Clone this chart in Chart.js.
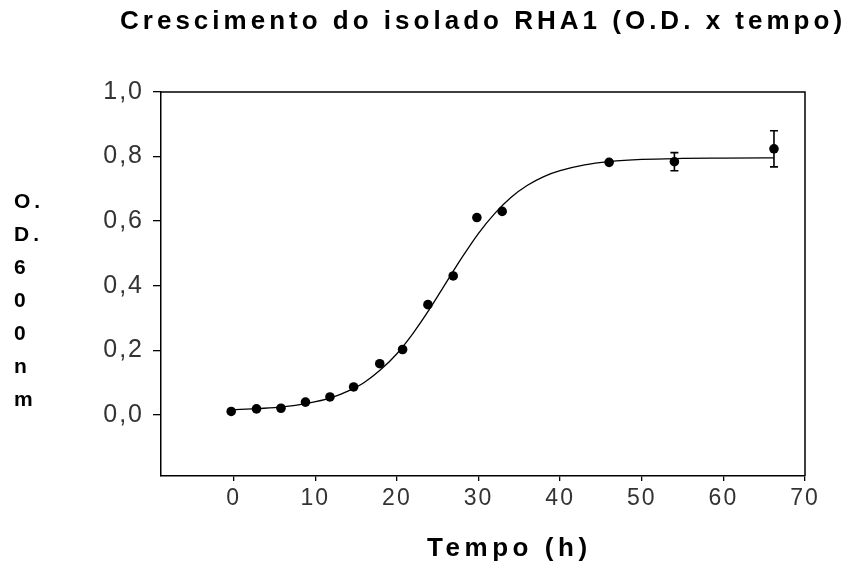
<!DOCTYPE html>
<html>
<head>
<meta charset="utf-8">
<script src="https://cdn.jsdelivr.net/npm/chart.js@4/dist/chart.umd.min.js"></script>
<style>
  html, body { margin: 0; padding: 0; background: #ffffff; }
  #wrap { width: 848px; height: 566px; }
</style>
</head>
<body>
<div id="wrap"><canvas id="c" width="848" height="566"></canvas></div>
<script>
// ---- data ----
const chartTitle = 'Crescimento do isolado RHA1 (O.D. x tempo)';
const xTitle = 'Tempo (h)';
const yTitleLines = ['O.', 'D.', '6', '0', '0', 'n', 'm'];

const timeH    = [-0.3, 2.8, 5.8, 8.8, 11.8, 14.7, 17.9, 20.7, 23.8, 26.9, 29.8, 32.9, 46.0, 54.0, 66.2];
const odValues = [0.010, 0.018, 0.020, 0.039, 0.055, 0.086, 0.158, 0.202, 0.341, 0.430, 0.611, 0.630, 0.782, 0.784, 0.824];
const odErrors = [0, 0, 0, 0, 0, 0, 0, 0, 0, 0, 0, 0, 0, 0.028, 0.056];

const fitTime = [-0.3, 3, 6, 9, 12, 14, 16, 18, 20, 22, 24, 26, 28, 30, 32, 34, 36, 38, 40, 43, 46, 50, 55, 60, 66.2];
const fitOD   = [0.015, 0.019, 0.024, 0.035, 0.053, 0.073, 0.100, 0.139, 0.189, 0.253, 0.327, 0.408, 0.488, 0.562, 0.624, 0.674, 0.711, 0.738, 0.756, 0.774, 0.784, 0.791, 0.794, 0.795, 0.796];

const xTicks = [0, 10, 20, 30, 40, 50, 60, 70];
const xTickLabels = ['0', '10', '20', '30', '40', '50', '60', '70'];
const yTicks = [0, 0.2, 0.4, 0.6, 0.8, 1.0];
const yTickLabels = ['0,0', '0,2', '0,4', '0,6', '0,8', '1,0'];

// ---- helpers ----
function drawSpaced(ctx, text, left, baseline, targetWidth) {
  ctx.letterSpacing = '0px';
  const w0 = ctx.measureText(text).width;
  const n = Array.from(text).length;
  const sp = Math.max(0, (targetWidth - w0) / (n - 1));
  ctx.letterSpacing = sp.toFixed(2) + 'px';
  ctx.textAlign = 'left';
  ctx.textBaseline = 'alphabetic';
  ctx.fillText(text, left, baseline);
  ctx.letterSpacing = '0px';
}

const decorPlugin = {
  id: 'decor',
  beforeDraw(chart) {
    const ctx = chart.ctx;
    ctx.save();
    ctx.fillStyle = '#ffffff';
    ctx.fillRect(0, 0, chart.width, chart.height);
    ctx.restore();
    ctx.letterSpacing = '2px';
  },
  beforeDatasetsDraw(chart) {
    chart.ctx.letterSpacing = '0px';
  },
  afterDatasetsDraw(chart) {
    const ctx = chart.ctx;
    const xs = chart.scales.x, ys = chart.scales.y;
    // error bars
    ctx.save();
    ctx.strokeStyle = '#000';
    ctx.lineWidth = 1.6;
    for (let i = 0; i < timeH.length; i++) {
      if (!odErrors[i]) continue;
      const px = xs.getPixelForValue(timeH[i]);
      const top = ys.getPixelForValue(odValues[i] + odErrors[i]);
      const bot = ys.getPixelForValue(odValues[i] - odErrors[i]);
      ctx.beginPath();
      ctx.moveTo(px, top); ctx.lineTo(px, bot);
      ctx.moveTo(px - 4, top); ctx.lineTo(px + 4, top);
      ctx.moveTo(px - 4, bot); ctx.lineTo(px + 4, bot);
      ctx.stroke();
    }
    ctx.restore();
  },
  afterDraw(chart) {
    const ctx = chart.ctx;
    const a = chart.chartArea;
    ctx.save();
    // frame top & right
    ctx.strokeStyle = '#000';
    ctx.lineWidth = 1.5;
    ctx.beginPath();
    ctx.moveTo(a.left, a.top);
    ctx.lineTo(a.right, a.top);
    ctx.lineTo(a.right, a.bottom);
    ctx.stroke();
    // titles
    ctx.fillStyle = '#000';
    ctx.font = 'bold 26px "Liberation Sans", Arial, sans-serif';
    drawSpaced(ctx, chartTitle, 120, 29, 722);
    ctx.font = 'bold 26px "Liberation Sans", Arial, sans-serif';
    drawSpaced(ctx, xTitle, 427, 556, 160);
    ctx.font = 'bold 21px "Liberation Sans", Arial, sans-serif';
    ctx.letterSpacing = '4px';
    ctx.textAlign = 'left';
    ctx.textBaseline = 'alphabetic';
    yTitleLines.forEach((t, i) => ctx.fillText(t, 14, 208 + i * 33));
    ctx.letterSpacing = '0px';
    ctx.restore();
  }
};

new Chart(document.getElementById('c'), {
  type: 'scatter',
  data: {
    datasets: [
      {
        label: 'ajuste',
        data: fitTime.map((t, i) => ({ x: t, y: fitOD[i] })),
        showLine: true,
        borderColor: '#000',
        borderWidth: 1.3,
        pointRadius: 0,
        cubicInterpolationMode: 'monotone',
        fill: false,
        order: 2
      },
      {
        label: 'O.D.',
        data: timeH.map((t, i) => ({ x: t, y: odValues[i] })),
        showLine: false,
        pointRadius: 4.8,
        pointBackgroundColor: '#000',
        pointBorderColor: '#000',
        pointBorderWidth: 0,
        order: 1
      }
    ]
  },
  options: {
    responsive: false,
    animation: false,
    events: [],
    layout: { padding: { left: 0, right: 43, top: 92, bottom: 0 } },
    plugins: {
      legend: { display: false },
      title: { display: false },
      tooltip: { enabled: false }
    },
    scales: {
      x: {
        type: 'linear',
        min: -8.9,
        max: 70,
        afterBuildTicks: (s) => { s.ticks = xTicks.map(v => ({ value: v })); },
        afterFit: (s) => { s.height = 90; },
        grid: { drawOnChartArea: false, drawTicks: true, tickLength: 5, color: '#000', lineWidth: 1.3 },
        border: { display: true, color: '#000', width: 1.5 },
        ticks: {
          color: '#333',
          font: { family: '"Liberation Sans", Arial, sans-serif', size: 23, weight: 'normal' },
          padding: 4,
          maxRotation: 0,
          autoSkip: false,
          callback: (v, i) => xTickLabels[i]
        }
      },
      y: {
        type: 'linear',
        min: -0.19,
        max: 1.0,
        afterBuildTicks: (s) => { s.ticks = yTicks.map(v => ({ value: v })); },
        afterFit: (s) => { s.width = 161; },
        grid: { drawOnChartArea: false, drawTicks: true, tickLength: 8, color: '#000', lineWidth: 1.3 },
        border: { display: true, color: '#000', width: 1.5 },
        ticks: {
          color: '#333',
          font: { family: '"Liberation Sans", Arial, sans-serif', size: 25, weight: 'normal' },
          padding: 9,
          autoSkip: false,
          callback: (v, i) => yTickLabels[i]
        }
      }
    }
  },
  plugins: [decorPlugin]
});
</script>
</body>
</html>
